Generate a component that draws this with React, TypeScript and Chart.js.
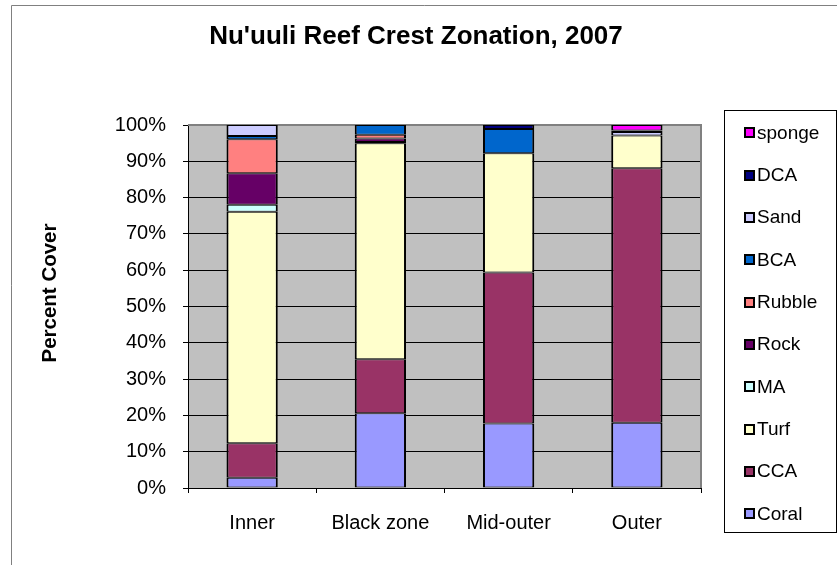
import React, { useEffect, useRef } from "react";
import { Chart, registerables } from "chart.js";

Chart.register(...registerables);

const categories = ["Inner", "Black zone", "Mid-outer", "Outer"];

const seriesNames = ["Coral", "CCA", "Turf", "MA", "Rock", "Rubble", "BCA", "Sand", "DCA", "sponge"];
const seriesColors = ["#9999FF", "#993366", "#FFFFCC", "#CCFFFF", "#660066", "#FF8080", "#0066CC", "#CCCCFF", "#000080", "#FF00FF"];

const coral = [2.8, 20.6, 17.8, 18.0];
const cca = [9.5, 14.9, 41.6, 70.1];
const turf = [63.8, 59.5, 32.8, 9.0];
const ma = [1.9, 0.3, 0, 0];
const rock = [8.7, 1.0, 0, 0];
const rubble = [9.4, 1.0, 0, 0];
const bca = [0.9, 2.7, 6.7, 0];
const sand = [3.0, 0, 0, 1.0];
const dca = [0, 0, 1.1, 0.4];
const sponge = [0, 0, 0, 1.5];

const seriesValues = [coral, cca, turf, ma, rock, rubble, bca, sand, dca, sponge];

const yTicks = [0, 10, 20, 30, 40, 50, 60, 70, 80, 90, 100];

const TITLE = "Nu'uuli Reef Crest Zonation, 2007";
const Y_TITLE = "Percent Cover";
const FONT = "'Liberation Sans', Arial, sans-serif";

const decorPlugin = {
  id: "decor",
  beforeDraw(chart: any) {
    const ctx = chart.ctx;
    const { left, top, right, bottom } = chart.chartArea;
    ctx.save();
    ctx.fillStyle = "#ffffff";
    ctx.fillRect(0, 0, chart.width, chart.height);
    ctx.strokeStyle = "#808080";
    ctx.lineWidth = 1;
    ctx.beginPath();
    ctx.moveTo(11.5, chart.height + 5);
    ctx.lineTo(11.5, 5.5);
    ctx.lineTo(837, 5.5);
    ctx.stroke();
    ctx.fillStyle = "#C0C0C0";
    ctx.fillRect(left, top, right - left, bottom - top);
    ctx.restore();
  },
  beforeDatasetsDraw(chart: any) {
    const ctx = chart.ctx;
    const { left, top, right, bottom } = chart.chartArea;
    ctx.save();
    ctx.strokeStyle = "#808080";
    ctx.lineWidth = 2;
    ctx.beginPath();
    ctx.moveTo(left, top);
    ctx.lineTo(right, top);
    ctx.lineTo(right, bottom);
    ctx.stroke();
    ctx.restore();
  },
  afterDraw(chart: any) {
    const ctx = chart.ctx;
    ctx.save();
    ctx.fillStyle = "#000";
    ctx.font = `bold 26px ${FONT}`;
    ctx.textAlign = "center";
    ctx.textBaseline = "alphabetic";
    ctx.fillText(TITLE, 416, 44);
    ctx.save();
    ctx.translate(50, 293);
    ctx.rotate(-Math.PI / 2);
    ctx.font = `bold 20.5px ${FONT}`;
    ctx.textAlign = "center";
    ctx.textBaseline = "middle";
    ctx.fillText(Y_TITLE, 0, 0);
    ctx.restore();
    ctx.strokeStyle = "#000";
    ctx.lineWidth = 1;
    ctx.strokeRect(724.5, 110.5, 112, 422);
    const ds = chart.data.datasets;
    ctx.font = `19px ${FONT}`;
    ctx.textAlign = "left";
    ctx.textBaseline = "middle";
    for (let i = 0; i < ds.length; i++) {
      const d = ds[ds.length - 1 - i];
      const cy = 132.3 + i * 42.33;
      const my = Math.round(cy - 5);
      ctx.fillStyle = "#000";
      ctx.fillRect(744, my, 11, 11);
      ctx.fillStyle = d.backgroundColor;
      ctx.fillRect(746, my + 2, 7, 7);
      ctx.fillStyle = "#000";
      ctx.fillText(d.label, 757, cy + 1);
    }
    ctx.restore();
  },
};

export default function App() {
  const ref = useRef<HTMLCanvasElement | null>(null);

  useEffect(() => {
    if (!ref.current) return;
    const chart = new Chart(ref.current, {
      type: "bar",
      data: {
        labels: categories,
        datasets: seriesNames.map((name, i) => ({
          label: name,
          data: seriesValues[i],
          backgroundColor: seriesColors[i],
          borderColor: "#000000",
          borderWidth: { left: 2, right: 2, top: 1, bottom: 1 },
          borderSkipped: false,
          barPercentage: 0.4,
          categoryPercentage: 1.0,
          inflateAmount: 0,
        })),
      },
      options: {
        responsive: false,
        animation: false,
        devicePixelRatio: 1,
        layout: { padding: { top: 125, right: 137, left: 0, bottom: 0 } },
        plugins: {
          legend: { display: false },
          title: { display: false },
          tooltip: { enabled: false },
        },
        scales: {
          x: {
            stacked: true,
            afterFit(scale: any) {
              scale.height = 77;
            },
            grid: {
              display: true,
              offset: true,
              drawOnChartArea: false,
              drawTicks: true,
              tickLength: 5,
              color: "#000",
              tickColor: "#000",
            },
            border: { display: true, color: "#000", width: 1 },
            ticks: {
              color: "#000",
              font: { family: FONT, size: 20 },
              padding: 18,
              maxRotation: 0,
              autoSkip: false,
            },
          },
          y: {
            stacked: true,
            min: 0,
            max: 100,
            afterFit(scale: any) {
              scale.width = 188;
            },
            afterBuildTicks(scale: any) {
              scale.ticks = yTicks.map((v) => ({ value: v }));
            },
            grid: {
              color: "#000",
              tickColor: "#000",
              tickLength: 5,
              lineWidth: 1,
            },
            border: { display: true, color: "#000", width: 1 },
            ticks: {
              color: "#000",
              font: { family: FONT, size: 20 },
              padding: 17,
              callback: (v: any) => `${v}%`,
            },
          },
        },
      },
      plugins: [decorPlugin],
    });
    return () => chart.destroy();
  }, []);

  return (
    <div style={{ position: "absolute", left: 0, top: 0, width: 838, height: 565 }}>
      <canvas ref={ref} width={838} height={565} style={{ display: "block" }} />
    </div>
  );
}
